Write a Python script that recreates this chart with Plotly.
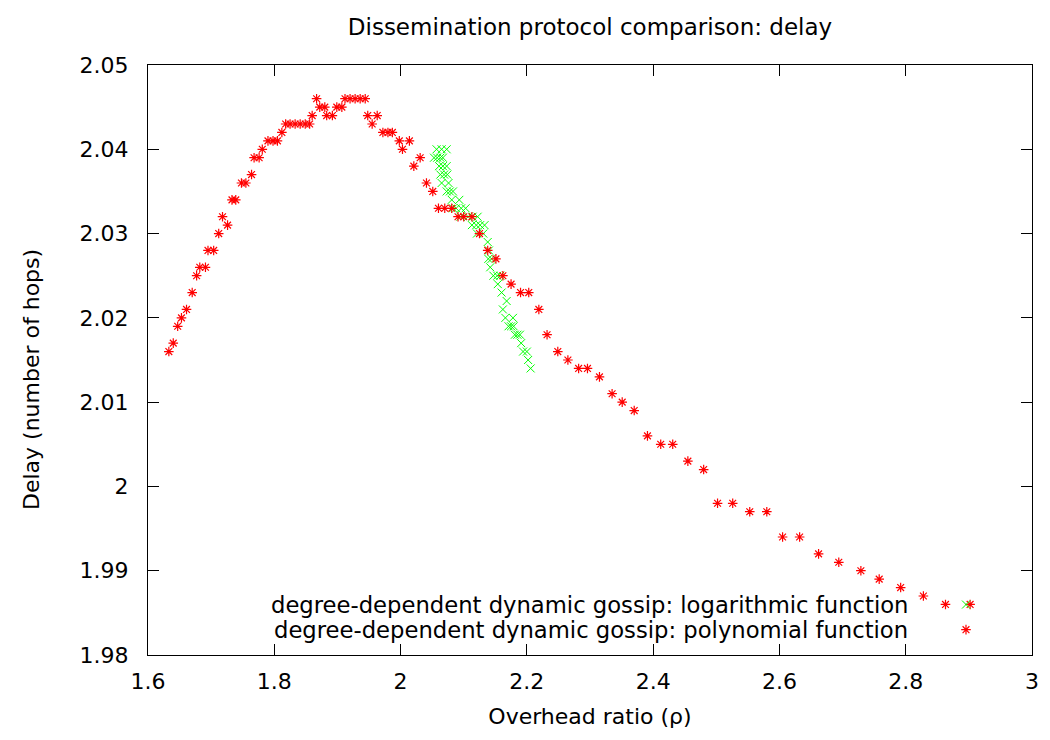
import plotly.graph_objects as go

# ---- data ----
poly_x = [1.633, 1.640, 1.647, 1.653, 1.661, 1.670, 1.677, 1.682, 1.691, 1.695, 1.704,
          1.712, 1.718, 1.726, 1.733, 1.739, 1.748, 1.755, 1.764, 1.768, 1.776, 1.781,
          1.790, 1.798, 1.805, 1.812, 1.818, 1.825, 1.833, 1.841, 1.849, 1.856, 1.860,
          1.867, 1.872, 1.880, 1.883, 1.892, 1.899, 1.907, 1.912, 1.920, 1.928, 1.936,
          1.944, 1.948, 1.955, 1.963, 1.972, 1.980, 1.987, 1.998, 2.003, 2.014, 2.021,
          2.031, 2.041, 2.051, 2.060, 2.070, 2.081, 2.091, 2.100, 2.113, 2.125, 2.138,
          2.151, 2.162, 2.175, 2.190, 2.203, 2.219, 2.232, 2.249, 2.265, 2.282, 2.296,
          2.315, 2.335, 2.351, 2.370, 2.391, 2.412, 2.431, 2.455, 2.480, 2.502, 2.526,
          2.553, 2.580, 2.605, 2.632, 2.662, 2.694, 2.729, 2.758, 2.792, 2.828, 2.863,
          2.902]
poly_y = [2.016, 2.017, 2.019, 2.020, 2.021, 2.023, 2.025, 2.026, 2.026, 2.028, 2.028,
          2.030, 2.032, 2.031, 2.034, 2.034, 2.036, 2.036, 2.037, 2.039, 2.039, 2.040,
          2.041, 2.041, 2.041, 2.042, 2.043, 2.043, 2.043, 2.043, 2.043, 2.043, 2.044,
          2.046, 2.045, 2.045, 2.044, 2.044, 2.045, 2.045, 2.046, 2.046, 2.046, 2.046,
          2.046, 2.044, 2.043, 2.044, 2.042, 2.042, 2.042, 2.041, 2.040, 2.041, 2.038,
          2.039, 2.036, 2.035, 2.033, 2.033, 2.033, 2.032, 2.032, 2.032, 2.030, 2.028,
          2.027, 2.025, 2.024, 2.023, 2.023, 2.021, 2.018, 2.016, 2.015, 2.014, 2.014,
          2.013, 2.011, 2.010, 2.009, 2.006, 2.005, 2.005, 2.003, 2.002, 1.998, 1.998,
          1.997, 1.997, 1.994, 1.994, 1.992, 1.991, 1.990, 1.989, 1.988, 1.987, 1.986,
          1.986]

log_x = [2.057, 2.065, 2.073,
         2.053, 2.058, 2.063, 2.067,
         2.061, 2.067, 2.073,
         2.063, 2.069, 2.074,
         2.065, 2.076,
         2.073, 2.078, 2.083,
         2.081, 2.093,
         2.083, 2.088, 2.096, 2.103,
         2.095, 2.107, 2.114, 2.122,
         2.113, 2.120, 2.126, 2.133,
         2.121, 2.131,
         2.138,
         2.140,
         2.139, 2.144,
         2.142,
         2.147, 2.153, 2.158,
         2.154,
         2.160,
         2.168,
         2.162,
         2.166, 2.178,
         2.171, 2.175, 2.179,
         2.181, 2.185, 2.189,
         2.191,
         2.194, 2.200,
         2.202,
         2.206]
log_y = [2.040, 2.040, 2.040,
         2.039, 2.039, 2.039, 2.039,
         2.038, 2.038, 2.038,
         2.037, 2.037, 2.037,
         2.036, 2.036,
         2.035, 2.035, 2.035,
         2.034, 2.034,
         2.033, 2.033, 2.033, 2.033,
         2.032, 2.032, 2.032, 2.032,
         2.031, 2.031, 2.031, 2.031,
         2.030, 2.030,
         2.029,
         2.028,
         2.027, 2.027,
         2.026,
         2.025, 2.025, 2.025,
         2.024,
         2.023,
         2.022,
         2.021,
         2.020, 2.020,
         2.019, 2.019, 2.019,
         2.018, 2.018, 2.018,
         2.017,
         2.016, 2.016,
         2.015,
         2.014]

x_ticks = [1.6, 1.8, 2.0, 2.2, 2.4, 2.6, 2.8, 3.0]
x_tick_labels = ["1.6", "1.8", "2", "2.2", "2.4", "2.6", "2.8", "3"]
y_ticks = [1.98, 1.99, 2.00, 2.01, 2.02, 2.03, 2.04, 2.05]
y_tick_labels = ["1.98", "1.99", "2", "2.01", "2.02", "2.03", "2.04", "2.05"]

series_names = ["degree-dependent dynamic gossip: logarithmic function",
                "degree-dependent dynamic gossip: polynomial function"]

FONT = "DejaVu Sans"
FS = 22

fig = go.Figure()
fig.add_trace(go.Scatter(
    x=log_x, y=log_y, mode="markers", name=" ",
    marker=dict(symbol="x-thin-open", size=8, color="#00ff00",
                line=dict(color="#00ff00", width=1)),
    hovertemplate="%{x}, %{y}<extra>" + series_names[0] + "</extra>",
))
fig.add_trace(go.Scatter(
    x=poly_x, y=poly_y, mode="markers", name="  ",
    marker=dict(symbol="asterisk-open", size=8, color="#ff0000",
                line=dict(color="#ff0000", width=1.2)),
    hovertemplate="%{x}, %{y}<extra>" + series_names[1] + "</extra>",
))

axis_common = dict(
    showline=True, linecolor="black", linewidth=1, mirror="allticks",
    ticks="inside", ticklen=11, tickwidth=1, tickcolor="black",
    showgrid=False, zeroline=False,
    tickfont=dict(family=FONT, size=FS, color="black"),
)

fig.update_layout(
    width=1050, height=740,
    margin=dict(l=148, r=18, t=65, b=85),
    paper_bgcolor="white", plot_bgcolor="white",
    font=dict(family=FONT, size=FS, color="black"),
    title=dict(text="Dissemination protocol comparison: delay",
               x=0.5, xref="paper", y=1 - 27 / 740, yref="container",
               xanchor="center", yanchor="middle",
               font=dict(family=FONT, size=23, color="black")),
    xaxis=dict(range=[1.6, 3.0], tickvals=x_ticks, ticktext=x_tick_labels,
               ticklabelstandoff=7,
               title=dict(text="Overhead ratio (ρ)", standoff=15,
                          font=dict(family=FONT, size=FS, color="black")),
               **axis_common),
    yaxis=dict(range=[1.98, 2.05], tickvals=y_ticks, ticktext=y_tick_labels,
               ticklabelstandoff=14, **axis_common),
    showlegend=True,
    legend=dict(x=(946 - 148) / 884, y=(655 - 587) / 590, xanchor="left", yanchor="top",
                bgcolor="rgba(0,0,0,0)", borderwidth=0,
                font=dict(family=FONT, size=17, color="black"),
                itemwidth=30, tracegroupgap=0),
    annotations=[
        dict(text="Delay (number of hops)", textangle=-90,
             x=(31 - 148) / 884, y=(655 - 380) / 590, xref="paper", yref="paper",
             xanchor="center", yanchor="middle", showarrow=False,
             font=dict(family=FONT, size=FS, color="black")),
        dict(text=series_names[0], x=(910 - 148) / 884, y=(655 - 604.5) / 590,
             xref="paper", yref="paper", xanchor="right", yanchor="middle",
             showarrow=False, font=dict(family=FONT, size=22.7, color="black")),
        dict(text=series_names[1], x=(910 - 148) / 884, y=(655 - 630) / 590,
             xref="paper", yref="paper", xanchor="right", yanchor="middle",
             showarrow=False, font=dict(family=FONT, size=22.7, color="black")),
    ],
)

fig.write_html("out.html")
